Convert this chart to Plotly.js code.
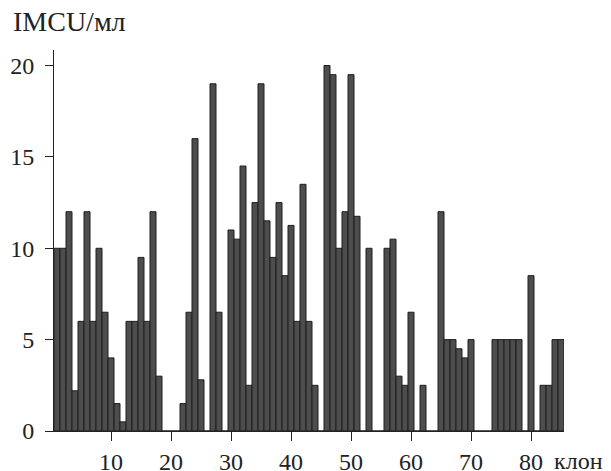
<!DOCTYPE html>
<html>
<head>
<meta charset="utf-8">
<script src="https://cdn.plot.ly/plotly-3.0.1.min.js"></script>
<style>html,body{margin:0;padding:0;background:#fff;}#chart{width:611px;height:471px;}</style>
</head>
<body>
<div id="chart"></div>
<script>
const clones = [1,2,3,4,5,6,7,8,9,10,11,12,13,14,15,16,17,18,19,20,21,22,23,24,25,26,27,28,29,30,31,32,33,34,35,36,37,38,39,40,41,42,43,44,45,46,47,48,49,50,51,52,53,54,55,56,57,58,59,60,61,62,63,64,65,66,67,68,69,70,71,72,73,74,75,76,77,78,79,80,81,82,83,84,85];
const values = [10,10,12,2.2,6,12,6,10,6.5,4,1.5,0.5,6,6,9.5,6,12,3,0,0,0,1.5,6.5,16,2.8,0,19,6.5,0,11,10.5,14.5,2.5,12.5,19,11.5,9.5,12.5,8.5,11.25,6,13.5,6,2.5,0,20,19.5,10,12,19.5,11.75,0,10,0,0,10,10.5,3,2.5,6.5,0,2.5,0,0,12,5,5,4.5,4,5,0,0,0,5,5,5,5,5,0,8.5,0,2.5,2.5,5,5];
const xTicks = [10,20,30,40,50,60,70,80];
const yTicks = [0,5,10,15,20];
const yTitle = 'IMCU/мл';
const xTitle = 'клон';

const font = {family: '"Liberation Serif", "DejaVu Serif", serif', size: 24, color: '#222'};

Plotly.newPlot('chart', [{
  type: 'bar',
  x: clones,
  y: values,
  width: 1,
  marker: {color: '#4d4d4d', line: {color: '#1e1e1e', width: 1}},
  hoverinfo: 'none'
}], {
  width: 611, height: 471,
  margin: {l: 54, r: 47, t: 50, b: 40},
  paper_bgcolor: '#fff', plot_bgcolor: '#fff',
  showlegend: false,
  bargap: 0,
  font: font,
  xaxis: {
    range: [0.5, 85.5], tickvals: xTicks, ticktext: xTicks.map(String),
    ticks: 'outside', ticklen: 9, tickwidth: 1, tickcolor: '#222',
    showline: true, linecolor: '#222', linewidth: 1,
    showgrid: false, zeroline: false, tickfont: font, ticklabelstandoff: 0
  },
  yaxis: {
    range: [0, 20.85], tickvals: yTicks, ticktext: yTicks.map(String),
    ticks: 'outside', ticklen: 8, tickwidth: 1, tickcolor: '#222',
    showline: true, linecolor: '#222', linewidth: 1,
    showgrid: false, zeroline: false, tickfont: font, ticklabelstandoff: 6
  },
  annotations: [
    {text: yTitle, xref: 'paper', yref: 'paper', x: -0.084, y: 1.03, xanchor: 'left', yanchor: 'bottom', showarrow: false, font: {family: font.family, size: 28, color: '#222'}},
    {text: xTitle, xref: 'paper', yref: 'paper', x: 1.0, y: 0, xanchor: 'left', yanchor: 'top', xshift: -12, yshift: -15, showarrow: false, font: font}
  ]
}, {staticPlot: true});
</script>
</body>
</html>
